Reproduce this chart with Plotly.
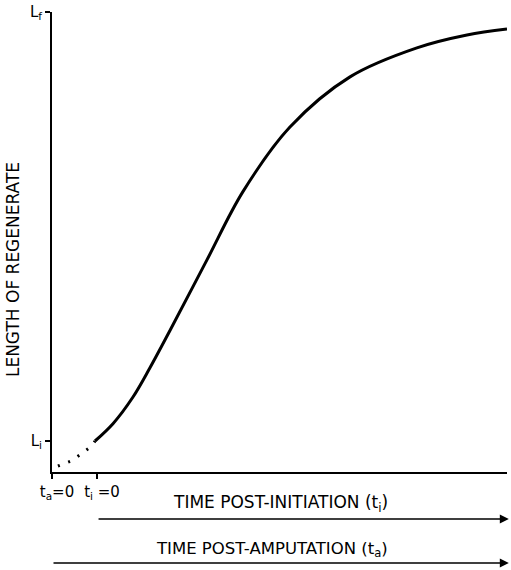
import plotly.graph_objects as go

# Data (arbitrary units: time 0-100 post-amputation, length 0-100)
t_solid = [9.45, 13.4, 17.8, 21.5, 25.9, 34.0, 42.0, 52.3, 65.5, 80.2, 91.2, 100.0]
L_solid = [6.74, 10.5, 16.3, 22.6, 30.7, 46.0, 61.0, 75.0, 85.9, 92.2, 95.0, 96.3]
t_dot = [1.3, 4.2, 6.4, 8.8, 9.45]
L_dot = [1.3, 2.4, 3.9, 5.7, 6.74]

x_tickvals = [0, 9.9]
x_ticktext = ["t<sub>a</sub>=0", "t<sub>i</sub> =0"]
y_tickvals = [6.74, 100]
y_ticktext = ["L<sub>i</sub>", "L<sub>f</sub>"]

FONT = "DejaVu Sans"

fig = go.Figure()
fig.add_trace(go.Scatter(x=t_dot, y=L_dot, mode="lines",
                         line=dict(color="black", width=3, dash="2px,9px"),
                         showlegend=False, hoverinfo="skip"))
fig.add_trace(go.Scatter(x=t_solid, y=L_solid, mode="lines", line_shape="spline",
                         line=dict(color="black", width=3, smoothing=1.0),
                         showlegend=False, hoverinfo="skip"))

fig.update_layout(
    width=511, height=570,
    margin=dict(l=52, r=4, t=12, b=98),
    paper_bgcolor="white", plot_bgcolor="white",
    font=dict(family=FONT, color="black", size=14),
    xaxis=dict(range=[0, 100], showgrid=False, zeroline=False,
               showline=True, linecolor="black", linewidth=2,
               ticks="outside", ticklen=5, tickwidth=2, tickcolor="black",
               tickvals=x_tickvals, ticktext=x_ticktext, ticklabelshift=5,
               tickfont=dict(size=15, family=FONT)),
    yaxis=dict(range=[0, 100], showgrid=False, zeroline=False,
               showline=True, linecolor="black", linewidth=2,
               ticks="outside", ticklen=5, tickwidth=2, tickcolor="black",
               tickvals=y_tickvals, ticktext=y_ticktext,
               tickfont=dict(size=15, family=FONT)),
)

# Y title
fig.add_annotation(text="LENGTH OF REGENERATE", textangle=-90,
                   xref="paper", yref="paper", x=-0.0857, y=0.439,
                   xanchor="center", yanchor="middle",
                   showarrow=False, font=dict(size=17, family=FONT))

# Bottom time arrows
fig.add_annotation(x=100.4, y=-0.102, xref="x", yref="paper",
                   ax=9.9, axref="x", ay=0, ayref="pixel",
                   showarrow=True, arrowhead=2, arrowsize=1.2, arrowwidth=1.5,
                   arrowcolor="black", text="")
fig.add_annotation(x=100.4, y=-0.198, xref="x", yref="paper",
                   ax=0, axref="x", ay=0, ayref="pixel",
                   showarrow=True, arrowhead=2, arrowsize=1.2, arrowwidth=1.5,
                   arrowcolor="black", text="")
fig.add_annotation(text="TIME POST-INITIATION (t<sub>i</sub>)",
                   xref="paper", yref="paper", x=0.503, y=-0.097,
                   xanchor="center", yanchor="bottom", showarrow=False,
                   font=dict(size=17, family=FONT))
fig.add_annotation(text="TIME POST-AMPUTATION (t<sub>a</sub>)",
                   xref="paper", yref="paper", x=0.484, y=-0.196,
                   xanchor="center", yanchor="bottom", showarrow=False,
                   font=dict(size=16.5, family=FONT))

fig.write_html("out.html")
